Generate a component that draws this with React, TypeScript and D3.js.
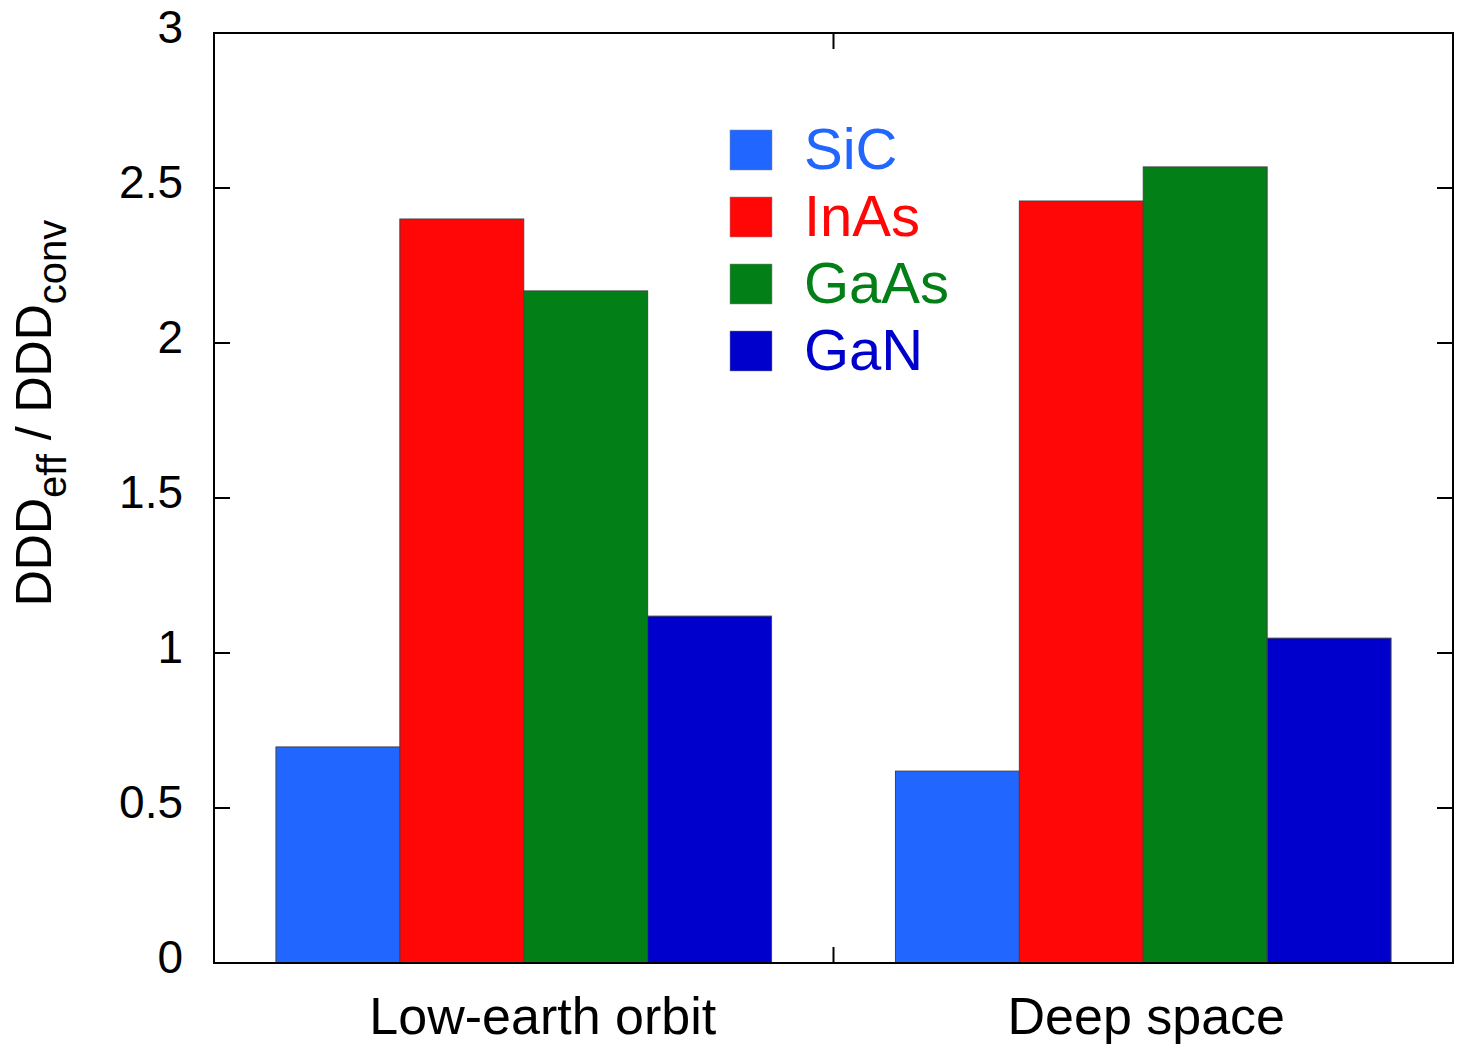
import React from "react";
import * as d3 from "d3";

const categories = ["Low-earth orbit", "Deep space"];
const materials = ["SiC", "InAs", "GaAs", "GaN"];
const colors = ["#2166ff", "#ff0707", "#037f17", "#0000cc"];
const values: number[][] = [
  [0.697, 2.4, 2.168, 1.119],
  [0.619, 2.458, 2.568, 1.048],
];
const yTicks = [0, 0.5, 1, 1.5, 2, 2.5, 3];
// small horizontal nudges for the category labels, as in the original figure
const labelShift = [19, 3];

const W = 1459;
const H = 1044;
const m = { left: 214, right: 1453, top: 33, bottom: 963 };
const FONT = "'Liberation Sans', Arial, sans-serif";

export default function App() {
  const x0 = d3.scaleBand().domain(categories).range([m.left, m.right]).paddingInner(0.2).paddingOuter(0.1);
  const x1 = d3.scaleBand().domain(materials).range([0, x0.bandwidth()]);
  const y = d3.scaleLinear().domain([0, 3]).range([m.bottom, m.top]);
  const tick = 16;
  const midX = (m.left + m.right) / 2;

  return (
    <svg width={W} height={H} style={{ position: "absolute", left: 0, top: 0, background: "#fff" }} fontFamily={FONT}>
      {categories.map((c, ci) =>
        materials.map((mat, mi) => (
          <rect
            key={c + mat}
            x={(x0(c) ?? 0) + (x1(mat) ?? 0)}
            y={y(values[ci][mi])}
            width={x1.bandwidth()}
            height={y(0) - y(values[ci][mi])}
            fill={colors[mi]}
            stroke="#444"
            strokeWidth={1}
          />
        ))
      )}

      {/* frame */}
      <rect x={m.left} y={m.top} width={m.right - m.left} height={m.bottom - m.top} fill="none" stroke="#000" strokeWidth={2} />

      {yTicks.map((t) => (
        <g key={t}>
          <line x1={m.left} x2={m.left + tick} y1={y(t)} y2={y(t)} stroke="#000" strokeWidth={2} />
          <line x1={m.right} x2={m.right - tick} y1={y(t)} y2={y(t)} stroke="#000" strokeWidth={2} />
          <text x={183} y={y(t) + 10} textAnchor="end" fontSize={46} fill="#000">
            {t}
          </text>
        </g>
      ))}

      <line x1={midX} x2={midX} y1={m.bottom} y2={m.bottom - tick} stroke="#000" strokeWidth={2} />
      <line x1={midX} x2={midX} y1={m.top} y2={m.top + tick} stroke="#000" strokeWidth={2} />

      {categories.map((c, i) => (
        <text key={c} x={(x0(c) ?? 0) + x0.bandwidth() / 2 + labelShift[i]} y={1034} textAnchor="middle" fontSize={52} fill="#000">
          {c}
        </text>
      ))}

      <text transform="translate(51,413) rotate(-90)" textAnchor="middle" fontSize={50} fill="#000">
        DDD
        <tspan fontSize={40} dy={15}>eff</tspan>
        <tspan dy={-15}> / DDD</tspan>
        <tspan fontSize={40} dy={15}>conv</tspan>
      </text>

      {materials.map((mat, i) => (
        <g key={mat}>
          <rect x={730} y={130 + i * 67} width={42} height={40} fill={colors[i]} stroke="#888" strokeWidth={0.5} />
          <text x={804} y={169 + i * 67} fontSize={58} fill={colors[i]}>
            {mat}
          </text>
        </g>
      ))}
    </svg>
  );
}
